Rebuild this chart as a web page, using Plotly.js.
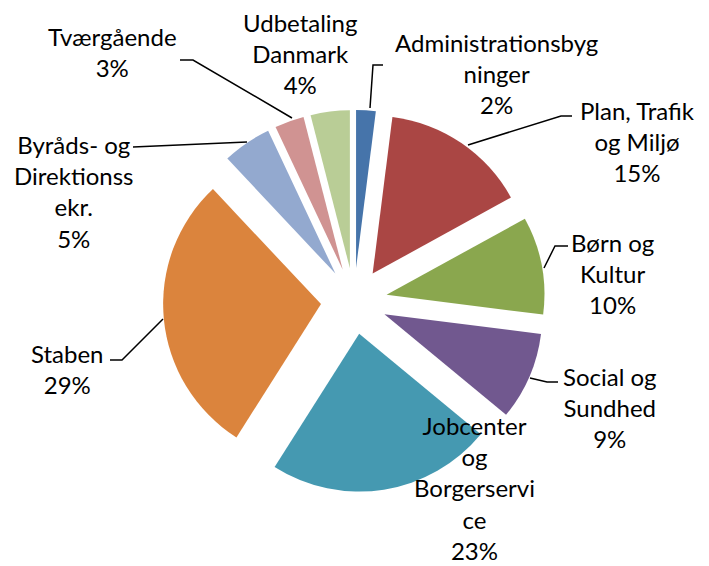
<!DOCTYPE html>
<html>
<head>
<meta charset="utf-8">
<script src="https://cdn.plot.ly/plotly-3.0.1.min.js"></script>
<style>html,body{margin:0;padding:0;background:#fff;}#chart{width:709px;height:566px;}</style>
</head>
<body>
<div id="chart"></div>
<script>
// Data
const categories = ["Administrationsbygninger", "Plan, Trafik og Miljø", "Børn og Kultur", "Social og Sundhed", "Jobcenter og Borgerservice", "Staben", "Byråds- og Direktionssekr.", "Tværgående", "Udbetaling Danmark"];
const values = [2, 15, 10, 9, 23, 29, 5, 3, 4];
const labelLines = ["Administrationsbyg<br>ninger", "Plan, Trafik<br>og Miljø", "Børn og<br>Kultur", "Social og<br>Sundhed", "Jobcenter<br>og<br>Borgerservi<br>ce", "Staben", "Byråds- og<br>Direktionss<br>ekr.", "Tværgående", "Udbetaling<br>Danmark"];
const colors = ["#4674AA", "#AA4644", "#8AA74E", "#71588F", "#4599B1", "#DB843D", "#93A9CF", "#D09392", "#B9CD96"];

// Layout (pixel positions)
const W = 709, H = 566;
const labelPos = [[496, 73], [637, 141], [612, 273], [610, 407], [475, 488], [67, 369], [73, 192], [112, 52], [300, 53]];
const leaders = [
  [[383, 65], [373, 65], [370, 108]],
  [[572, 116], [561, 116], [468, 145]],
  [[568, 246], [555, 246], [544, 268]],
  [[558, 382], [547, 382], [530, 378]],
  null,
  [[110, 360], [122, 360], [163, 319]],
  [[133, 147], [247, 142]],
  [[180, 60], [193, 60], [292, 118]],
  null
];
const px = x => x / W;
const py = y => 1 - y / H;

const total = values.reduce((a, b) => a + b, 0);
const annotations = categories.map((c, i) => ({
  xref: 'paper', yref: 'paper',
  x: px(labelPos[i][0]), y: py(labelPos[i][1]),
  xanchor: 'center', yanchor: 'middle', align: 'center',
  showarrow: false,
  text: labelLines[i] + '<br>' + Math.round(values[i] / total * 100) + '%',
  font: {family: 'Lato, sans-serif', size: 24, color: '#000'}
}));
const shapes = leaders.filter(l => l).map(pts => ({
  type: 'path', xref: 'paper', yref: 'paper',
  path: pts.map((p, k) => (k ? 'L' : 'M') + px(p[0]) + ',' + py(p[1])).join(' '),
  line: {color: '#000', width: 1.5}
}));

const cx = 354, cy = 301, R = 191;
const trace = {
  type: 'pie',
  labels: categories,
  values: values,
  sort: false,
  direction: 'clockwise',
  rotation: 0,
  pull: values.map(() => 0.21),
  marker: {colors: colors, line: {width: 0}},
  textinfo: 'none',
  hoverinfo: 'label+percent',
  domain: {x: [px(cx - R), px(cx + R)], y: [py(cy + R), py(cy - R)]}
};
const layout = {
  width: W, height: H,
  margin: {l: 0, r: 0, t: 0, b: 0},
  showlegend: false,
  paper_bgcolor: '#fff',
  annotations: annotations,
  shapes: shapes
};
Plotly.newPlot('chart', [trace], layout, {displayModeBar: false, staticPlot: true});
</script>
</body>
</html>
